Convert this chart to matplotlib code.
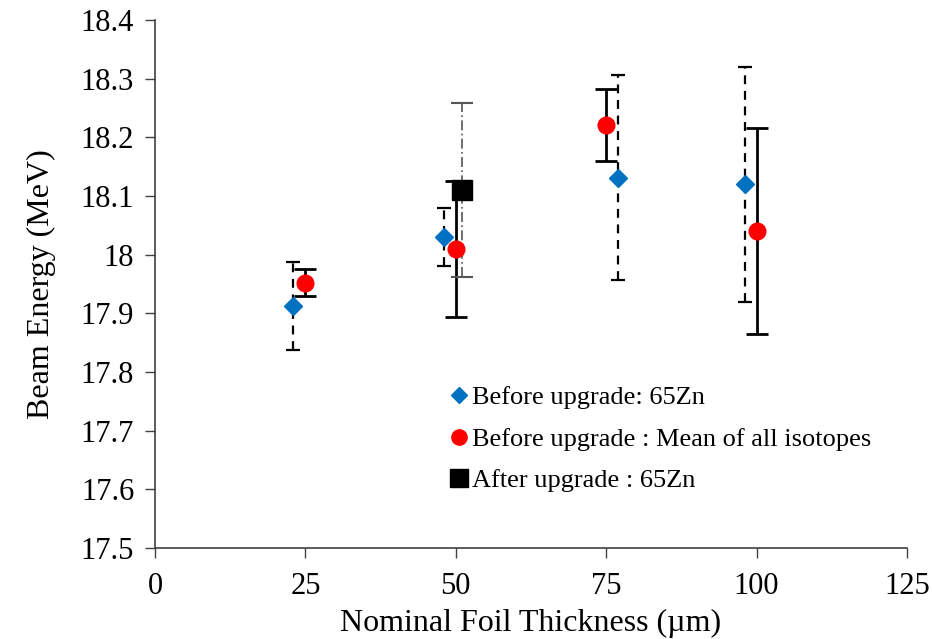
import matplotlib.pyplot as plt
from matplotlib.lines import Line2D

plt.rcParams['font.family'] = ['Liberation Serif', 'DejaVu Serif']

# Before upgrade: 65Zn
zn_x = [23, 48, 77, 98]
zn_y = [17.913, 18.03, 18.131, 18.12]
zn_err = [0.075, 0.05, 0.175, 0.2]

# Before upgrade: mean of all isotopes
mean_x = [25, 50, 75, 100]
mean_y = [17.952, 18.01, 18.221, 18.04]
mean_err = [0.023, 0.116, 0.061, 0.176]

# After upgrade: 65Zn
after_x = [51]
after_y = [18.11]
after_err = [0.148]

x_ticks = [0, 25, 50, 75, 100, 125]
y_ticks = [17.5, 17.6, 17.7, 17.8, 17.9, 18.0, 18.1, 18.2, 18.3, 18.4]
y_labels = ['17.5', '17.6', '17.7', '17.8', '17.9', '18', '18.1', '18.2', '18.3', '18.4']

fig = plt.figure(figsize=(9.32, 6.39), dpi=100)
ax = fig.add_axes([0.1663, 0.1424, 0.8069, 0.8263])

# error bars
eb = ax.errorbar(zn_x, zn_y, yerr=zn_err, fmt='none', ecolor='black',
                 elinewidth=1.6, capsize=5, capthick=1.6, zorder=2)
eb[2][0].set_linestyle((0, (4, 3)))
ax.errorbar(mean_x, mean_y, yerr=mean_err, fmt='none', ecolor='black',
            elinewidth=2, capsize=8, capthick=2, zorder=2)
eb3 = ax.errorbar(after_x, after_y, yerr=after_err, fmt='none', ecolor='#555555',
                  elinewidth=1.2, capsize=8, capthick=1.5, zorder=2)
eb3[2][0].set_linestyle((0, (6, 2, 1, 2)))

# markers
ax.plot(zn_x, zn_y, 'D', color='#0070C0', markersize=9, zorder=3)
ax.plot(mean_x, mean_y, 'o', color='#FF0000', markersize=12, zorder=3)
ax.plot(after_x, after_y, 's', color='black', markersize=15, zorder=4)

ax.set_xlim(0, 125)
ax.set_ylim(17.5, 18.4)
ax.set_xticks(x_ticks)
ax.set_yticks(y_ticks)
ax.set_yticklabels(y_labels)
ax.tick_params(labelsize=22, direction='out', length=7, color='#404040', width=1)
ax.tick_params(axis='y', pad=8)
ax.tick_params(axis='x', pad=10)
for s in ['top', 'right']:
    ax.spines[s].set_visible(False)
for s in ['left', 'bottom']:
    ax.spines[s].set_color('#404040')
    ax.spines[s].set_linewidth(1.2)

ax.set_xlabel('Nominal Foil Thickness (µm)', fontsize=23, labelpad=6)
ax.set_ylabel('Beam Energy (MeV)', fontsize=23, labelpad=18)

handles = [
    Line2D([], [], marker='D', color='#0070C0', linestyle='none', markersize=8),
    Line2D([], [], marker='o', color='#FF0000', linestyle='none', markersize=11),
    Line2D([], [], marker='s', color='black', linestyle='none', markersize=13),
]
labels = ['Before upgrade: 65Zn', 'Before upgrade : Mean of all isotopes',
          'After upgrade : 65Zn']
ax.legend(handles, labels, loc='upper left', bbox_to_anchor=(0.38, 0.327),
          frameon=False, fontsize=19, handlelength=0.6, handletextpad=0.2,
          labelspacing=0.68, borderaxespad=0)

fig.savefig('out.png', dpi=100)
